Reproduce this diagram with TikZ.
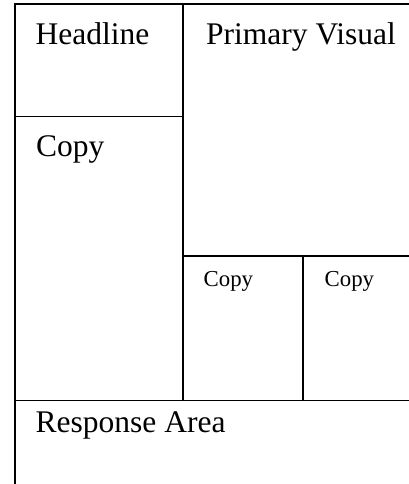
\documentclass[tikz,border=0pt]{standalone}
\usepackage{fontspec}
\setmainfont{Liberation Serif}
\tikzset{
  x=1pt,y=-1pt,
  frame/.style={draw=black,line width=1.8pt},
  bigtext/.style={anchor=base west,inner sep=0pt,font=\fontsize{31.5}{36}\selectfont},
  smalltext/.style={anchor=base west,inner sep=0pt,font=\fontsize{22.8}{27}\selectfont}
}
\begin{document}
\begin{tikzpicture}
\useasboundingbox (0,0) rectangle (409,484);
\clip (0,0) rectangle (409,484);
\fill[white] (0,0) rectangle (409,484);
% coordinates of the grid
\coordinate (tl) at (15,4);
\coordinate (tr) at (420,4);
\coordinate (bl) at (15,500);
\coordinate (ctop) at (183,4);
\coordinate (cbot) at (183,400.5);
\coordinate (hl) at (15,116.5);
\coordinate (hr) at (183,116.5);
\coordinate (ml) at (183,256);
\coordinate (mr) at (420,256);
\coordinate (dtop) at (303.3,256);
\coordinate (dbot) at (303.3,400.5);
\coordinate (rl) at (15,400.5);
\coordinate (rr) at (420,400.5);
% frame lines
\draw[frame] (bl) -- (tl) -- (tr);
\draw[frame] (ctop) -- (cbot);
\draw[frame] (hl) -- (hr);
\draw[frame] (ml) -- (mr);
\draw[frame] (dtop) -- (dbot);
\draw[frame] (rl) -- (rr);
% labels
\node[bigtext] (headline) at (35.5,45) {Headline};
\node[bigtext] (visual) at (206,45) {Primary Visual};
\node[bigtext] (copyA) at (36,156) {Copy};
\node[smalltext] (copyB) at (203.5,286) {Copy};
\node[smalltext] (copyC) at (324.5,286) {Copy};
\node[bigtext] (response) at (35.5,432) {Response Area};
\end{tikzpicture}
\end{document}
